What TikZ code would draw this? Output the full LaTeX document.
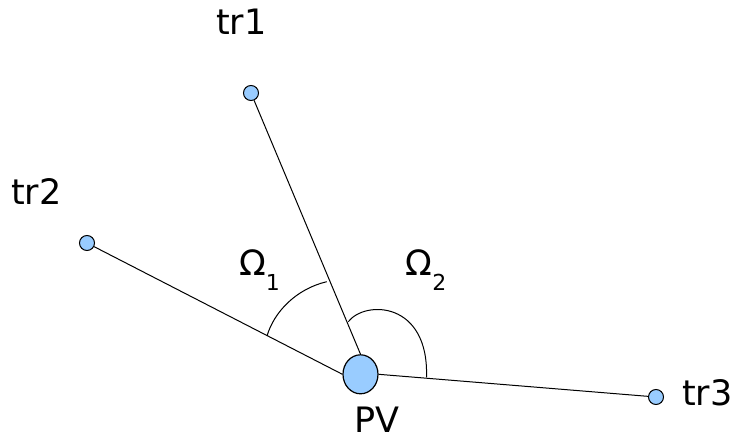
\documentclass[tikz,border=0pt]{standalone}
\usepackage{fontspec}
\setmainfont{DejaVu Sans}
\usetikzlibrary{shapes.geometric}
\definecolor{dotblue}{HTML}{99CCFF}
\begin{document}
\begin{tikzpicture}[x=1pt,y=-1pt,
  dot/.style={circle,draw=black,fill=dotblue,line width=1pt,minimum size=15pt,inner sep=0pt},
  pvnode/.style={ellipse,draw=black,fill=dotblue,line width=1.2pt,minimum width=35pt,minimum height=39pt,inner sep=0pt},
  lbl/.style={anchor=base west,inner sep=0pt,font=\fontsize{35}{40}\selectfont},
  conn/.style={line width=1pt,black},
  angarc/.style={line width=1pt,black}]
\useasboundingbox (0,0) rectangle (737,441);
% connectors
\node[dot] (tr1) at (251,93) {};
\node[dot] (tr2) at (87,243) {};
\node[dot] (tr3) at (656,397) {};
\node[pvnode] (PV) at (360.5,374.3) {};
\draw[conn] (tr1) -- (PV.north);
\draw[conn] (tr2) -- (PV.west);
\draw[conn] (PV.east) -- (tr3);
% angle marks
\draw[angarc] (267,336) .. controls (274,312) and (296,289) .. (326.7,281.7);
\draw[angarc] (348.3,321.7) .. controls (365,300) and (429,301) .. (426.5,377.3);
% labels
\node[lbl] (ltr1) at (216,35) {tr1};
\node[lbl] (ltr2) at (11,205) {tr2};
\node[lbl] (ltr3) at (682,405) {tr3};
\node[lbl] (lpv) at (354,432) {PV};
\node[lbl] (om1) at (239,275) {Ω\raisebox{-15pt}{\fontsize{22}{22}\selectfont 1}};
\node[lbl] (om2) at (405.5,275) {Ω\raisebox{-15pt}{\fontsize{22}{22}\selectfont 2}};
\end{tikzpicture}
\end{document}
